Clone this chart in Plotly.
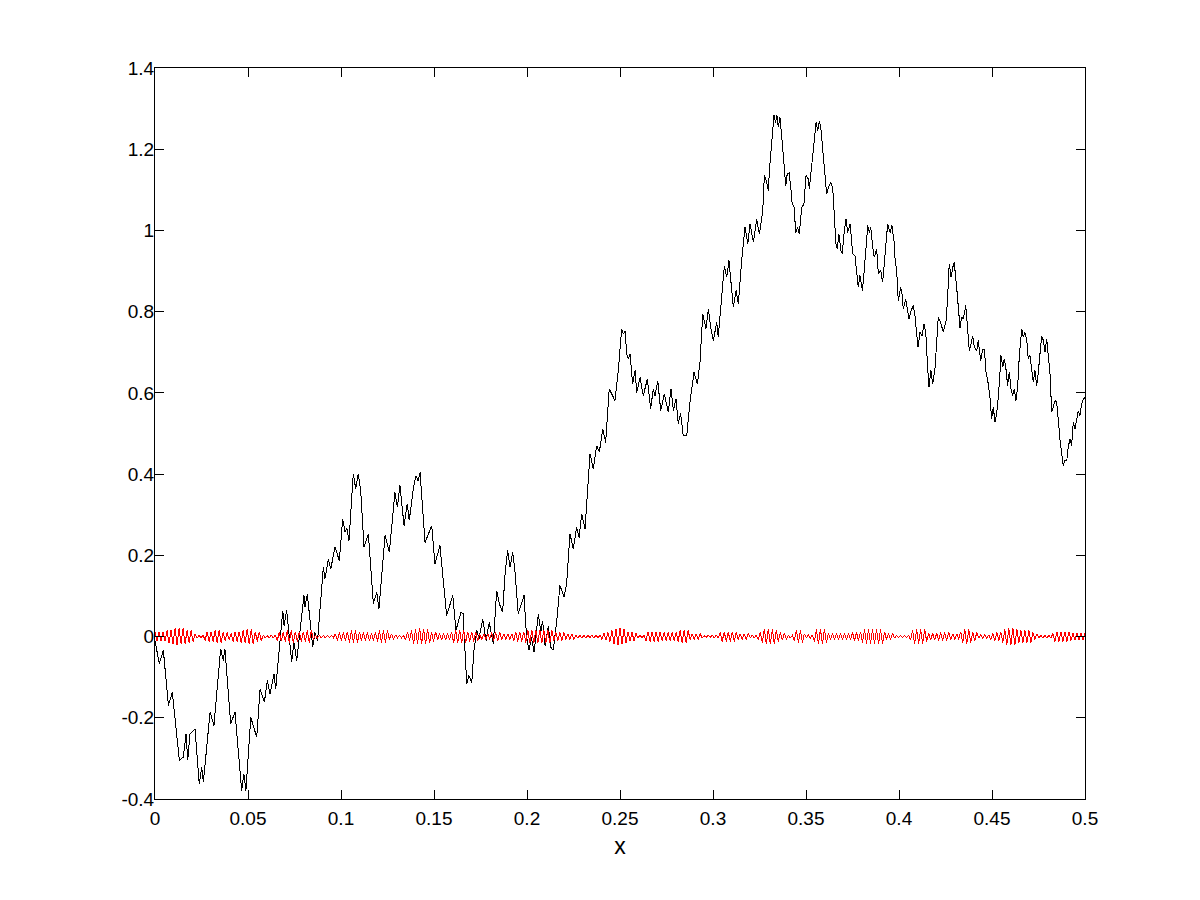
import numpy as np
import plotly.graph_objects as go

# black curve at its turning points
black_x = [
    0.0000, 0.0023, 0.0045, 0.0072, 0.0093, 0.0131, 0.0152, 0.0167, 0.0176, 0.0188,
    0.0215, 0.0238, 0.0251, 0.0260, 0.0296, 0.0317, 0.0353, 0.0367, 0.0376, 0.0407,
    0.0430, 0.0466, 0.0478, 0.0489, 0.0515, 0.0532, 0.0547, 0.0565, 0.0588, 0.0604,
    0.0618, 0.0640, 0.0649, 0.0687, 0.0694, 0.0708, 0.0735, 0.0747, 0.0762, 0.0801,
    0.0806, 0.0819, 0.0848, 0.0860, 0.0874,
    0.0905, 0.0914, 0.0932, 0.0945, 0.0968, 0.0991, 0.1009, 0.1022, 0.1032, 0.1043,
    0.1066, 0.1079, 0.1093, 0.1106, 0.1124, 0.1147, 0.1174, 0.1192, 0.1204, 0.1237,
    0.1260, 0.1290, 0.1303, 0.1317, 0.1339, 0.1356, 0.1367, 0.1389, 0.1403, 0.1414,
    0.1425, 0.1452, 0.1488, 0.1505, 0.1532, 0.1568, 0.1601, 0.1618, 0.1645,
    0.1656, 0.1676, 0.1688, 0.1703, 0.1715, 0.1730, 0.1742, 0.1762, 0.1780, 0.1797,
    0.1819, 0.1837, 0.1851, 0.1869, 0.1882, 0.1896, 0.1909, 0.1923, 0.1935, 0.1953,
    0.1968, 0.1984, 0.1998, 0.2011, 0.2024, 0.2038, 0.2061, 0.2074, 0.2084, 0.2097,
    0.2115, 0.2127, 0.2141, 0.2160, 0.2177, 0.2199, 0.2213, 0.2231, 0.2249, 0.2267,
    0.2280, 0.2294, 0.2312, 0.2339, 0.2356, 0.2375, 0.2389, 0.2407, 0.2423, 0.2442,
    0.2473, 0.2491, 0.2509, 0.2518, 0.2527,
    0.2536, 0.2545, 0.2554, 0.2568, 0.2581, 0.2590, 0.2608, 0.2625, 0.2647, 0.2665,
    0.2679, 0.2688, 0.2703, 0.2719, 0.2738, 0.2760, 0.2774, 0.2787, 0.2801, 0.2813,
    0.2826, 0.2840, 0.2859, 0.2876, 0.2898, 0.2916, 0.2930, 0.2945, 0.2962, 0.2975,
    0.2988, 0.3002, 0.3020, 0.3028, 0.3047, 0.3061, 0.3074, 0.3086, 0.3109, 0.3124,
    0.3136, 0.3154, 0.3172, 0.3187, 0.3199, 0.3217, 0.3235, 0.3249, 0.3267,
    0.3276, 0.3289, 0.3297, 0.3306, 0.3316, 0.3328, 0.3336, 0.3344, 0.3351, 0.3360,
    0.3373, 0.3382, 0.3391, 0.3399, 0.3409, 0.3418, 0.3426, 0.3435, 0.3445, 0.3455,
    0.3464, 0.3477, 0.3489, 0.3500, 0.3512, 0.3518, 0.3531, 0.3539, 0.3554, 0.3563,
    0.3572, 0.3581, 0.3590, 0.3602, 0.3611, 0.3624, 0.3634, 0.3644, 0.3652, 0.3661,
    0.3668, 0.3677, 0.3688, 0.3695, 0.3706, 0.3715, 0.3724, 0.3737, 0.3742, 0.3751,
    0.3763, 0.3773, 0.3781, 0.3790, 0.3803, 0.3813, 0.3823, 0.3832, 0.3840, 0.3848,
    0.3859, 0.3867, 0.3880, 0.3889, 0.3902, 0.3912, 0.3921, 0.3930, 0.3939, 0.3952,
    0.3962, 0.3973, 0.3978, 0.3988, 0.3996, 0.4009, 0.4016, 0.4023, 0.4036, 0.4045,
    0.4054, 0.4065, 0.4077, 0.4086, 0.4095, 0.4102, 0.4113, 0.4124, 0.4134, 0.4144,
    0.4152, 0.4161, 0.4172, 0.4181, 0.4194, 0.4203, 0.4211,
    0.4224, 0.4238, 0.4253, 0.4260, 0.4270, 0.4280, 0.4289, 0.4297, 0.4310, 0.4319,
    0.4328, 0.4337, 0.4346, 0.4359, 0.4367, 0.4378, 0.4387, 0.4396, 0.4405, 0.4418,
    0.4426, 0.4439, 0.4450, 0.4459, 0.4468, 0.4480, 0.4489, 0.4498, 0.4507, 0.4516,
    0.4525, 0.4534, 0.4543, 0.4548, 0.4558, 0.4566, 0.4575, 0.4584, 0.4593, 0.4602,
    0.4611, 0.4620, 0.4629, 0.4638, 0.4647, 0.4660, 0.4668, 0.4677, 0.4687, 0.4695,
    0.4704, 0.4713, 0.4722, 0.4731, 0.4740, 0.4749, 0.4758, 0.4767, 0.4776, 0.4785,
    0.4794, 0.4803, 0.4812, 0.4821, 0.4830, 0.4839, 0.4848, 0.4856, 0.4866, 0.4875,
    0.4883, 0.4892, 0.4902, 0.4910, 0.4919, 0.4928, 0.4937, 0.4946, 0.4955, 0.4964,
    0.4973, 0.4982, 0.4991, 0.5000,
]
black_y = [
    -0.010, -0.067, -0.034, -0.170, -0.137, -0.305, -0.297, -0.240, -0.305, -0.240,
    -0.227, -0.363, -0.322, -0.359, -0.186, -0.219, -0.030, -0.059, -0.030, -0.215,
    -0.186, -0.379, -0.338, -0.379, -0.199, -0.223, -0.248, -0.129, -0.162, -0.108,
    -0.141, -0.092, -0.129, 0.064, 0.027, 0.064, -0.063, -0.014, -0.059, 0.101,
    0.072, 0.105, -0.026, 0.010, -0.010,
    0.171, 0.143, 0.191, 0.167, 0.220, 0.187, 0.290, 0.257, 0.266, 0.236,
    0.401, 0.364, 0.401, 0.359, 0.220, 0.253, 0.081, 0.109, 0.068, 0.249,
    0.208, 0.355, 0.318, 0.372, 0.273, 0.327, 0.286, 0.364, 0.396, 0.384,
    0.404, 0.232, 0.273, 0.179, 0.224, 0.052, 0.101, 0.015, 0.060,
    0.057, -0.116, -0.096, -0.113, -0.034, 0.015, -0.005, 0.044, -0.010, 0.035,
    -0.018, 0.113, 0.081, 0.060, 0.154, 0.212, 0.171, 0.208, 0.162, 0.056,
    0.076, 0.101, -0.002, -0.034, -0.002, -0.039, 0.056, 0.011, 0.039, -0.022,
    0.027, -0.026, -0.034, 0.039, 0.126, 0.097, 0.130, 0.253, 0.216, 0.269,
    0.244, 0.302, 0.265, 0.450, 0.413, 0.470, 0.454, 0.511, 0.478, 0.610,
    0.581, 0.655, 0.758, 0.745, 0.753,
    0.696, 0.684, 0.696, 0.622, 0.655, 0.601, 0.638, 0.593, 0.634, 0.561,
    0.610, 0.593, 0.630, 0.556, 0.597, 0.552, 0.610, 0.556, 0.585, 0.524,
    0.549, 0.495, 0.495, 0.577, 0.651, 0.622, 0.675, 0.794, 0.758, 0.807,
    0.761, 0.729, 0.774, 0.737, 0.835, 0.913, 0.885, 0.926, 0.811, 0.852,
    0.819, 0.926, 1.008, 0.967, 1.016, 0.971, 1.028, 0.991, 1.045,
    1.135, 1.118, 1.098, 1.164, 1.213, 1.283, 1.265, 1.283, 1.254, 1.278,
    1.213, 1.168, 1.110, 1.139, 1.142, 1.106, 1.065, 1.061, 0.995, 1.008,
    0.991, 1.057, 1.065, 1.135, 1.127, 1.102, 1.160, 1.196, 1.266, 1.246,
    1.270, 1.246, 1.196, 1.147, 1.090, 1.110, 1.118, 1.102, 1.049, 0.967,
    0.954, 0.991, 0.950, 0.942, 1.000, 1.028, 0.995, 1.016, 0.991, 0.942,
    0.938, 0.889, 0.860, 0.889, 0.852, 0.901, 0.958, 1.012, 0.995, 1.008,
    0.958, 0.934, 0.954, 0.893, 0.901, 0.872, 0.918, 0.958, 1.016, 0.995,
    1.012, 0.975, 0.934, 0.897, 0.827, 0.860, 0.844, 0.807, 0.831, 0.807,
    0.782, 0.803, 0.815, 0.790, 0.745, 0.712, 0.749, 0.741, 0.770, 0.749,
    0.679, 0.614, 0.655, 0.622, 0.663, 0.729, 0.786,
    0.774, 0.749, 0.778, 0.823, 0.918, 0.885, 0.909, 0.921, 0.860, 0.819,
    0.761, 0.786, 0.782, 0.815, 0.761, 0.704, 0.721, 0.741, 0.712, 0.704,
    0.729, 0.679, 0.708, 0.708, 0.651, 0.622, 0.589, 0.536, 0.565, 0.528,
    0.548, 0.589, 0.651, 0.692, 0.663, 0.684, 0.659, 0.618, 0.651, 0.610,
    0.593, 0.610, 0.581, 0.614, 0.692, 0.758, 0.737, 0.749, 0.729, 0.684,
    0.692, 0.659, 0.626, 0.655, 0.618, 0.651, 0.704, 0.741, 0.729, 0.700,
    0.733, 0.679, 0.647, 0.552, 0.565, 0.581, 0.577, 0.532, 0.483, 0.450,
    0.421, 0.433, 0.433, 0.466, 0.487, 0.470, 0.528, 0.511, 0.540, 0.556,
    0.544, 0.573, 0.585, 0.589,
]

# red trace: fast oscillation about zero, one value per stroke
red_y = [
    0.010, -0.010, 0.010, -0.010, 0.012, -0.012, 0.015, -0.016, 0.016, -0.018, 0.020, -0.021, 0.020, -0.018, 0.020,
    -0.018, 0.015, -0.015, 0.015, -0.012, 0.007, -0.004, 0.003, -0.003, 0.004, -0.010, 0.012, -0.012, 0.012, -0.012,
    0.015, -0.016, 0.016, -0.016, 0.010, -0.010, 0.010, -0.008, 0.008, -0.012, 0.012, -0.012, 0.012, -0.015, 0.015,
    -0.016, 0.018, -0.018, 0.018, -0.018, 0.012, -0.012, 0.012, -0.010, 0.003, -0.003, 0.002, -0.003, 0.003, -0.003,
    0.004, -0.010, 0.010, -0.010, 0.010, -0.012, 0.015, -0.015, 0.015, -0.015, 0.012, -0.012, 0.012, -0.012, 0.012,
    -0.012, 0.015, -0.015, 0.015, -0.007, 0.004, -0.004, 0.003, -0.003, 0.003, -0.003, 0.002, -0.002, 0.003, -0.003,
    0.007, -0.010, 0.010, -0.010, 0.010, -0.010, 0.012, -0.015, 0.015, -0.015, 0.015, -0.015, 0.012, -0.010, 0.010,
    -0.010, 0.010, -0.010, 0.008, -0.010, 0.010, -0.012, 0.015, -0.015, 0.015, -0.015, 0.015, -0.008, 0.007, -0.007,
    0.004, -0.003, 0.003, -0.003, 0.003, -0.008, 0.010, -0.010, 0.015, -0.018, 0.018, -0.018, 0.021, -0.018, 0.018,
    -0.018, 0.018, -0.016, 0.012, -0.012, 0.012, -0.008, 0.008, -0.008, 0.008, -0.008, 0.008, -0.008, 0.012, -0.016,
    0.016, -0.016, 0.016, -0.016, 0.016, -0.015, 0.012, -0.012, 0.012, -0.012, 0.012, -0.010, 0.007, -0.007, 0.007,
    -0.007, 0.007, -0.007, 0.010, -0.010, 0.010, -0.010, 0.010, -0.007, 0.007, -0.007, 0.007, -0.007, 0.007, -0.010,
    0.012, -0.012, 0.012, -0.012, 0.012, -0.015, 0.016, -0.016, 0.016, -0.016, 0.016, -0.016, 0.016, -0.016, 0.016,
    -0.016, 0.016, -0.016, 0.015, -0.010, 0.010, -0.010, 0.010, -0.010, 0.010, -0.007, 0.007, -0.007, 0.007, -0.007,
    0.004, -0.004, 0.004, -0.004, 0.004, -0.004, 0.003, -0.003, 0.004, -0.004, 0.004, -0.004, 0.004, -0.007, 0.008,
    -0.008, 0.010, -0.012, 0.015, -0.018, 0.018, -0.021, 0.021, -0.018, 0.018, -0.015, 0.012, -0.010, 0.010, -0.010,
    0.008, -0.004, 0.004, -0.004, 0.004, -0.010, 0.012, -0.012, 0.012, -0.012, 0.012, -0.012, 0.012, -0.010, 0.010,
    -0.010, 0.010, -0.010, 0.010, -0.010, 0.010, -0.012, 0.015, -0.015, 0.015, -0.015, 0.015, -0.008, 0.007, -0.007,
    0.007, -0.007, 0.007, -0.003, 0.002, -0.002, 0.003, -0.002, 0.003, -0.003, 0.003, -0.003, 0.010, -0.012, 0.012,
    -0.012, 0.012, -0.012, 0.012, -0.012, 0.012, -0.007, 0.007, -0.007, 0.007, -0.007, 0.007, -0.003, 0.003, -0.003,
    0.003, -0.008, 0.012, -0.016, 0.018, -0.018, 0.018, -0.018, 0.018, -0.018, 0.016, -0.012, 0.010, -0.008, 0.008,
    -0.007, 0.003, -0.003, 0.003, -0.010, 0.015, -0.015, 0.015, -0.015, 0.007, -0.004, 0.004, -0.004, 0.004, -0.012,
    0.018, -0.018, 0.018, -0.018, 0.018, -0.015, 0.008, -0.008, 0.008, -0.008, 0.008, -0.008, 0.008, -0.008, 0.008,
    -0.008, 0.008, -0.008, 0.010, -0.010, 0.010, -0.010, 0.012, -0.015, 0.018, -0.018, 0.018, -0.018, 0.018, -0.018,
    0.018, -0.018, 0.018, -0.018, 0.012, -0.008, 0.008, -0.008, 0.008, -0.004, 0.003, -0.003, 0.003, -0.003, 0.003,
    -0.003, 0.003, -0.008, 0.015, -0.018, 0.018, -0.018, 0.018, -0.018, 0.018, -0.012, 0.008, -0.008, 0.008, -0.008,
    0.008, -0.010, 0.010, -0.010, 0.010, -0.010, 0.010, -0.007, 0.007, -0.007, 0.007, -0.007, 0.012, -0.015, 0.018,
    -0.018, 0.018, -0.015, 0.010, -0.010, 0.010, -0.004, 0.004, -0.004, 0.004, -0.004, 0.004, -0.007, 0.008, -0.010,
    0.010, -0.010, 0.012, -0.015, 0.018, -0.021, 0.021, -0.021, 0.021, -0.021, 0.018, -0.015, 0.015, -0.015, 0.015,
    -0.015, 0.015, -0.015, 0.010, -0.007, 0.007, -0.004, 0.004, -0.004, 0.004, -0.004, 0.004, -0.004, 0.008, -0.012,
    0.012, -0.012, 0.012, -0.012, 0.012, -0.012, 0.012, -0.010, 0.008, -0.008, 0.008, -0.008, 0.008, -0.008, 0.008,
]
red_x = np.linspace(0, 0.5, len(red_y))

x_ticks = [0, 0.05, 0.1, 0.15, 0.2, 0.25, 0.3, 0.35, 0.4, 0.45, 0.5]
x_labels = ['0', '0.05', '0.1', '0.15', '0.2', '0.25', '0.3', '0.35', '0.4', '0.45', '0.5']
y_ticks = [-0.4, -0.2, 0, 0.2, 0.4, 0.6, 0.8, 1.0, 1.2, 1.4]
y_labels = ['-0.4', '-0.2', '0', '0.2', '0.4', '0.6', '0.8', '1', '1.2', '1.4']

fig = go.Figure()

fig.add_trace(go.Scatter(
    x=black_x, y=black_y, mode='lines',
    line=dict(color='black', width=1),
    showlegend=False, hoverinfo='skip'
))
fig.add_trace(go.Scatter(
    x=red_x, y=red_y, mode='lines',
    line=dict(color='red', width=1),
    showlegend=False, hoverinfo='skip'
))

axis_style = dict(
    showline=True, linecolor='black', linewidth=1, mirror='ticks',
    ticks='inside', ticklen=9, tickwidth=1, tickcolor='black',
    showgrid=False, zeroline=False, automargin=False,
    tickfont=dict(family='Liberation Sans, Arial', size=19, color='black'),
)

# page body adds an 8px offset, so margins are shifted to put the box at 155..1085 / 68..799
fig.update_layout(
    width=1200, height=900,
    margin=dict(l=147, r=123, t=60, b=109),
    paper_bgcolor='white', plot_bgcolor='white',
    font=dict(family='Liberation Sans, Arial', size=19, color='black'),
    xaxis=dict(range=[0, 0.5], tickvals=x_ticks, ticktext=x_labels,
               title=dict(text='x', standoff=10), ticklabelstandoff=2, **axis_style),
    yaxis=dict(range=[-0.4, 1.4], tickvals=y_ticks, ticktext=y_labels,
               ticklabelstandoff=-4, **axis_style),
)

# aliased line drawing, like the original bitmap
crisp = "document.querySelectorAll('.scatterlayer path').forEach(function(p){p.style.shapeRendering='crispEdges';});"

fig.write_html("out.html", post_script=crisp)
